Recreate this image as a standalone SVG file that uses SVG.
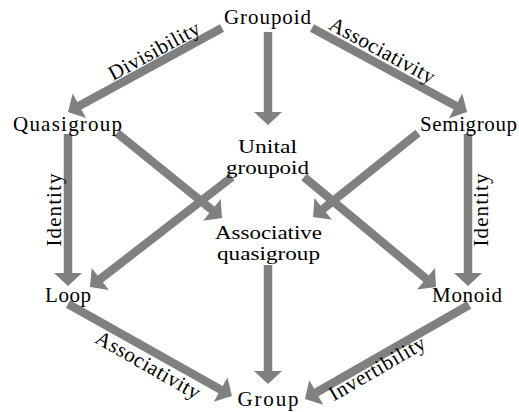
<svg xmlns="http://www.w3.org/2000/svg" width="519" height="412" viewBox="0 0 519 412">
<style>
  text { font-family: "Liberation Serif", "DejaVu Serif", "Times New Roman", serif; font-size: 21px; fill: #000; text-anchor: middle; }
  .two { font-size: 18px; }
  .edge { stroke: #808080; stroke-width: 8.5; fill: none; marker-end: url(#ah); }
</style>
<defs>
  <marker id="ah" markerUnits="userSpaceOnUse" markerWidth="14" markerHeight="28" refX="1" refY="14" orient="auto" overflow="visible">
    <path d="M0,0 L13,14 L0,28 Z" fill="#808080"/>
  </marker>
</defs>
<rect width="519" height="412" fill="#fff"/>
<g id="connectors">
  <line class="edge" x1="222" y1="28" x2="78.5" y2="106.3"/>
  <line class="edge" x1="312" y1="28" x2="456.5" y2="106.3"/>
  <line class="edge" x1="268" y1="32" x2="268" y2="113"/>
  <line class="edge" x1="68" y1="134" x2="68" y2="274"/>
  <line class="edge" x1="468" y1="134" x2="468" y2="274"/>
  <line class="edge" x1="117" y1="133" x2="212.7" y2="210.5"/>
  <line class="edge" x1="418" y1="133" x2="322.4" y2="209.5"/>
  <line class="edge" x1="232" y1="177" x2="99.5" y2="279.6"/>
  <line class="edge" x1="304" y1="177" x2="426.8" y2="279.3"/>
  <line class="edge" x1="268" y1="265" x2="268" y2="372"/>
  <line class="edge" x1="68" y1="304" x2="221.5" y2="390.1"/>
  <line class="edge" x1="469" y1="305" x2="315.4" y2="393"/>
  <g id="edge-labels">
    <text transform="translate(157.4,56.9) rotate(-28.6)" textLength="101" lengthAdjust="spacing">Divisibility</text>
    <text transform="translate(379,56.4) rotate(28.45)" textLength="117" lengthAdjust="spacing">Associativity</text>
    <text transform="translate(61,210) rotate(-90)" textLength="73" lengthAdjust="spacing">Identity</text>
    <text transform="translate(488,210) rotate(-90)" textLength="73" lengthAdjust="spacing">Identity</text>
    <text transform="translate(144.6,371) rotate(29.8)" textLength="117" lengthAdjust="spacing">Associativity</text>
    <text transform="translate(380.5,374.4) rotate(-30.2)" textLength="108" lengthAdjust="spacing">Invertibility</text>
  </g>
</g>
<g id="groupoid"><text x="267.5" y="24" textLength="87" lengthAdjust="spacing">Groupoid</text></g>
<g id="quasigroup"><text x="67.5" y="131" textLength="109" lengthAdjust="spacing">Quasigroup</text></g>
<g id="semigroup"><text x="468.5" y="131" textLength="97" lengthAdjust="spacing">Semigroup</text></g>
<g id="unital-groupoid">
  <text class="two" x="267.5" y="153" textLength="59" lengthAdjust="spacingAndGlyphs">Unital</text>
  <text class="two" x="267.5" y="174" textLength="83" lengthAdjust="spacingAndGlyphs">groupoid</text>
</g>
<g id="associative-quasigroup">
  <text class="two" x="268.5" y="239" textLength="107" lengthAdjust="spacingAndGlyphs">Associative</text>
  <text class="two" x="268.5" y="260" textLength="103" lengthAdjust="spacingAndGlyphs">quasigroup</text>
</g>
<g id="loop"><text x="68" y="302" textLength="46" lengthAdjust="spacing">Loop</text></g>
<g id="monoid"><text x="467" y="302" textLength="70" lengthAdjust="spacing">Monoid</text></g>
<g id="group"><text x="268" y="406" textLength="61" lengthAdjust="spacing">Group</text></g>
</svg>
